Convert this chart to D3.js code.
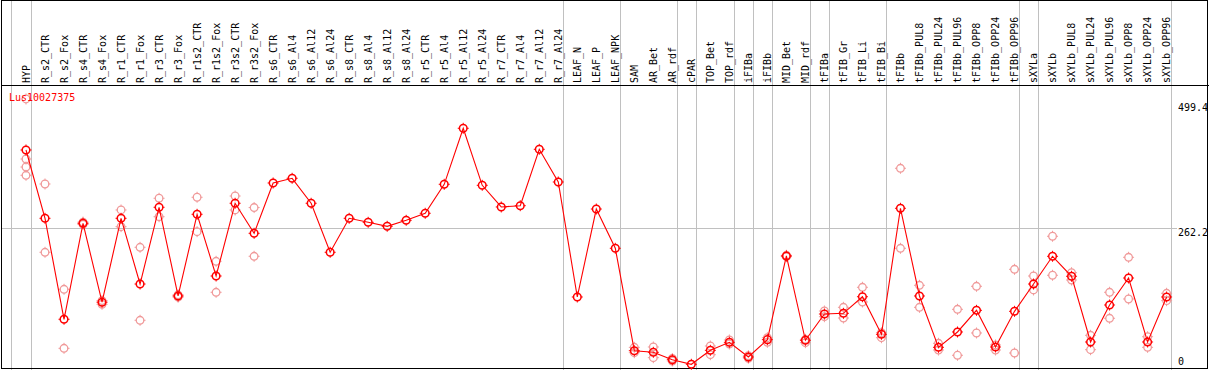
<!DOCTYPE html>
<html>
<head>
<meta charset="utf-8">
<script src="https://cdn.jsdelivr.net/npm/d3@7"></script>
<style>
  body { margin: 0; background: #fff; }
  text { font-family: "DejaVu Sans Mono", monospace; font-size: 10px; }
</style>
</head>
<body>
<svg id="chart" width="1209" height="370"></svg>
<script>
// Categories (column headers)
const categories = ['HYP','R_s2_CTR','R_s2_Fox','R_s4_CTR','R_s4_Fox','R_r1_CTR','R_r1_Fox','R_r3_CTR','R_r3_Fox',
  'R_r1s2_CTR','R_r1s2_Fox','R_r3s2_CTR','R_r3s2_Fox','R_s6_CTR','R_s6_Al4','R_s6_Al12','R_s6_Al24',
  'R_s8_CTR','R_s8_Al4','R_s8_Al12','R_s8_Al24','R_r5_CTR','R_r5_Al4','R_r5_Al12','R_r5_Al24',
  'R_r7_CTR','R_r7_Al4','R_r7_Al12','R_r7_Al24','LEAF_N','LEAF_P','LEAF_NPK','SAM','AR_Bet','AR_rdf',
  'cPAR','TOP_Bet','TOP_rdf','iFIBa','iFIBb','MID_Bet','MID_rdf','tFIBa','tFIB_Gr','tFIB_Li','tFIB_Bi',
  'tFIBb','tFIBb_PUL8','tFIBb_PUL24','tFIBb_PUL96','tFIBb_OPP8','tFIBb_OPP24','tFIBb_OPP96',
  'sXYLa','sXYLb','sXYLb_PUL8','sXYLb_PUL24','sXYLb_PUL96','sXYLb_OPP8','sXYLb_OPP24','sXYLb_OPP96'];

// Mean expression per category
const means = [410.8, 281.2, 89.6, 271.7, 122, 281.2, 156.5, 302.1, 133.8,
  288.8, 171.7, 309.7, 252.7, 348.2, 357.1, 309.7, 216.7,
  281.2, 273.6, 266, 277.4, 290.7, 345.7, 452, 343.8,
  302.7, 305.1, 412.1, 350.1, 131.9, 298.8, 224.3, 30, 26.9, 12.9,
  4.2, 30.7, 45.9, 18, 50.9, 209.7, 49.7, 99.6, 100.9, 132.4, 61.1,
  300.2, 133.8, 36.4, 65.5, 106.6, 37, 104.7,
  156.5, 209.1, 171.2, 46.5, 116.7, 167.9, 46.5, 131.9];

// Individual replicates per category
const replicates = [
  [507.6, 393.7, 378.5, 362.8], [346.3, 216.7], [146.5, 34.5], [274, 269.5], [125, 118],
  [297, 265.3], [226.2, 87.7], [319.2, 284.2], [136, 131.5],
  [321.1, 255.8], [199.6, 140.8], [323.5, 297], [301.6, 209.1], [], [], [], [],
  [], [], [], [], [], [], [], [],
  [], [], [], [], [], [], [], [36.4, 26.2], [37, 16.7], [15.2, 10.4],
  [], [38.9, 22.4], [50.3, 42.7], [20.5, 15.6], [54.6, 45.9], [211, 208.3], [51.6, 45.2],
  [105.3, 94.5], [112.3, 92], [150.3, 122.4], [64.1, 54.6],
  [376.1, 224.3], [154.1, 112.3], [44, 31.3], [108.5, 21.3], [152.2, 63.6], [40.8, 31.3], [184.4, 25.6],
  [171.7, 145.2], [247.1, 173.1], [178, 164.1], [59.2, 31.9], [140.8, 91.5], [207.2, 128.1], [56.5, 36.4], [138.9, 124.9]];

// Last category of each group (vertical separators)
const groupEnds = ['HYP','R_r7_Al24','LEAF_NPK','AR_rdf','cPAR','TOP_rdf','iFIBa','iFIBb','MID_rdf',
  'tFIBa','tFIB_Bi','tFIBb_OPP96','sXYLa','sXYLb_OPP96'];

const yTicks = [499.4, 262.2, 0];
const gridValues = [262.2];
const title = 'Lus10027375';

const W = 1209, H = 370;
const headerY = 85, plotRight = 1170;
const svg = d3.select('#chart');

const x = d3.scalePoint().domain(categories).range([26, 1166.6]);
const step = x.step();
const y = d3.scaleLinear().domain([0, 499.4]).range([366.5, 103.3]);

// Vertical separators
const sepX = [x(categories[0]) - step + 4].concat(groupEnds.map(c => x(c) + 4.5));
svg.append('g').selectAll('line').data(sepX).enter().append('line')
  .attr('x1', d => Math.round(d) + 0.5).attr('x2', d => Math.round(d) + 0.5)
  .attr('y1', 0).attr('y2', H)
  .attr('stroke', '#c0c0c0').attr('stroke-width', 1);

// Horizontal grid
svg.append('g').selectAll('line').data(gridValues).enter().append('line')
  .attr('x1', 1).attr('x2', 1177)
  .attr('y1', d => Math.round(y(d)) + 0.5).attr('y2', d => Math.round(y(d)) + 0.5)
  .attr('stroke', '#c0c0c0').attr('stroke-width', 1);

// Frame and header separator
svg.append('rect').attr('x', 1.5).attr('y', 0.5).attr('width', 1206).attr('height', 368)
  .attr('fill', 'none').attr('stroke', '#000');
svg.append('line').attr('x1', 1).attr('x2', W).attr('y1', headerY + 0.5).attr('y2', headerY + 0.5)
  .attr('stroke', '#000');

// Column labels
svg.append('g').selectAll('text').data(categories).enter().append('text')
  .attr('transform', d => `translate(${x(d) + 3.5},83) rotate(-90)`)
  .attr('fill', '#000')
  .text(d => d);

// Axis labels on the right
svg.append('g').selectAll('text').data(yTicks).enter().append('text')
  .attr('x', 1178)
  .attr('y', d => Math.min(y(d) + 8, 365))
  .attr('fill', '#000')
  .text(d => d);

// Marker: circle with small ticks
function marker(g, color, sw) {
  g.append('circle').attr('r', 3.8).attr('fill', 'none').attr('stroke', color).attr('stroke-width', sw);
  g.append('path').attr('d', 'M0,-3.5V-5.5M0,3.5V5.5M-3.5,0H-5.5M3.5,0H5.5')
    .attr('stroke', color).attr('stroke-width', 1);
}

// Replicate points
const repPts = [];
replicates.forEach((arr, i) => arr.forEach(v => repPts.push({ c: categories[i], v })));
svg.append('g').selectAll('g').data(repPts).enter().append('g')
  .attr('transform', d => `translate(${x(d.c)},${y(d.v)})`)
  .each(function () { marker(d3.select(this), '#f09a9a', 1.3); });

// Mean line
const line = d3.line().x((d, i) => x(categories[i])).y(d => y(d));
svg.append('path').datum(means).attr('d', line)
  .attr('fill', 'none').attr('stroke', '#ff0000').attr('stroke-width', 1.1);

// Mean points
svg.append('g').selectAll('g').data(means).enter().append('g')
  .attr('transform', (d, i) => `translate(${x(categories[i])},${y(d)})`)
  .each(function () { marker(d3.select(this), '#ff0000', 1.5); });

// Title
svg.append('text').attr('x', 9).attr('y', 101).attr('fill', '#ff0000').text(title);
</script>
</body>
</html>
